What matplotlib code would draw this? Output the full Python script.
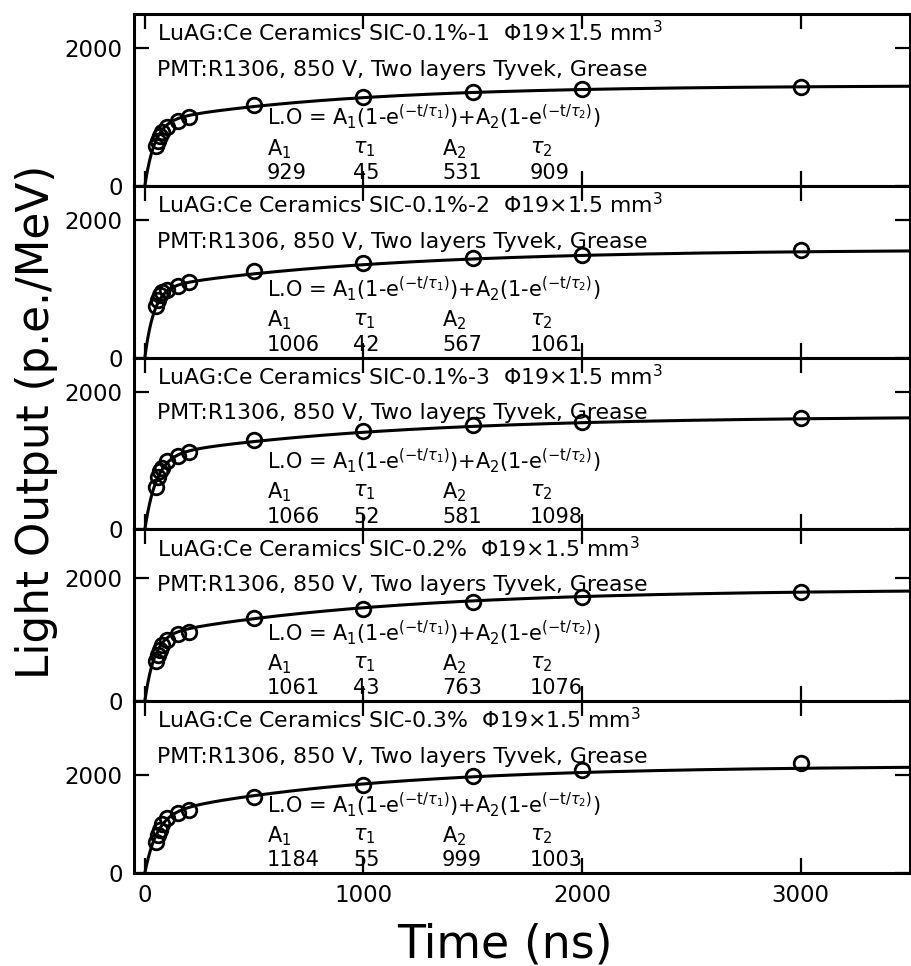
import numpy as np
import matplotlib.pyplot as plt

plt.rcParams['font.family'] = ['DejaVu Sans']
plt.rcParams['mathtext.fontset'] = 'dejavusans'

# measurement times (ns)
t_ns = [50, 60, 70, 80, 100, 150, 200, 500, 1000, 1500, 2000, 3000]

# light output (p.e./MeV)
lo_01_1 = [580, 650, 720, 790, 860, 940, 1008, 1170, 1290, 1364, 1413, 1445]
lo_01_2 = [750, 840, 905, 950, 990, 1045, 1096, 1262, 1370, 1447, 1491, 1560]
lo_01_3 = [610, 760, 850, 900, 1000, 1072, 1130, 1306, 1430, 1515, 1560, 1620]
lo_02 = [663, 745, 830, 920, 1000, 1100, 1135, 1349, 1510, 1620, 1700, 1780]
lo_03 = [637, 774, 876, 1000, 1120, 1222, 1283, 1554, 1792, 1975, 2098, 2234]

samples = ['SIC-0.1%-1', 'SIC-0.1%-2', 'SIC-0.1%-3', 'SIC-0.2%', 'SIC-0.3%']
series = [lo_01_1, lo_01_2, lo_01_3, lo_02, lo_03]

# fit parameters shown in each panel
A1 = [929, 1006, 1066, 1061, 1184]
tau1 = [45, 42, 52, 43, 55]
A2 = [531, 567, 581, 763, 999]
tau2 = [909, 1061, 1098, 1076, 1003]

ymax = [2500, 2500, 2500, 2800, 3500]

fig, axes = plt.subplots(5, 1, sharex=True, figsize=(9.11, 9.66), dpi=100,
                         gridspec_kw={'hspace': 0})
fig.subplots_adjust(left=0.147, right=0.999, top=0.9855, bottom=0.0963)

t = np.linspace(0, 3500, 2000)
fs = 15
for i, ax in enumerate(axes):
    fit = A1[i] * (1 - np.exp(-t / tau1[i])) + A2[i] * (1 - np.exp(-t / tau2[i]))
    ax.plot(t, fit, color='black', lw=2.2)
    ax.plot(t_ns, series[i], 'o', ms=10.5, mfc='none', mec='black', mew=2)
    ax.set_xlim(-50, 3500)
    ax.set_ylim(0, ymax[i])
    ax.set_yticks([0, 2000])
    ax.set_xticks([0, 1000, 2000, 3000])
    ax.tick_params(direction='in', length=10.5, width=1.6, top=True, right=True,
                   labelsize=16.5, pad=8)
    for s in ax.spines.values():
        s.set_linewidth(2.2)

    tr = ax.get_xaxis_transform()
    ax.text(55, 0.89, 'LuAG:Ce Ceramics ' + samples[i] + r'  $\Phi$19×1.5 mm$^3$',
            transform=tr, fontsize=15.8, va='center')
    ax.text(55, 0.675, 'PMT:R1306, 850 V, Two layers Tyvek, Grease',
            transform=tr, fontsize=15.8, va='center')
    ax.text(558, 0.40,
            r'L.O = A$_1$(1-e$^{(\mathrm{-t}/\tau_1)}$)+A$_2$(1-e$^{(\mathrm{-t}/\tau_2)}$)',
            transform=tr, fontsize=fs, va='center')
    cols = [558, 952, 1359, 1762]
    heads = [r'A$_1$', r'$\tau_1$', r'A$_2$', r'$\tau_2$']
    vals = [A1[i], tau1[i], A2[i], tau2[i]]
    for x, h, v in zip(cols, heads, vals):
        ax.text(x, 0.215, h, transform=tr, fontsize=fs, va='center')
        ax.text(x, 0.075, str(v), transform=tr, fontsize=fs, va='center')

fig.text(0.04, 0.563, 'Light Output (p.e./MeV)', rotation=90, fontsize=31.5,
         ha='center', va='center')
fig.text(0.554, 0.022, 'Time (ns)', fontsize=33, ha='center', va='center')

fig.savefig('out.png', dpi=100)
